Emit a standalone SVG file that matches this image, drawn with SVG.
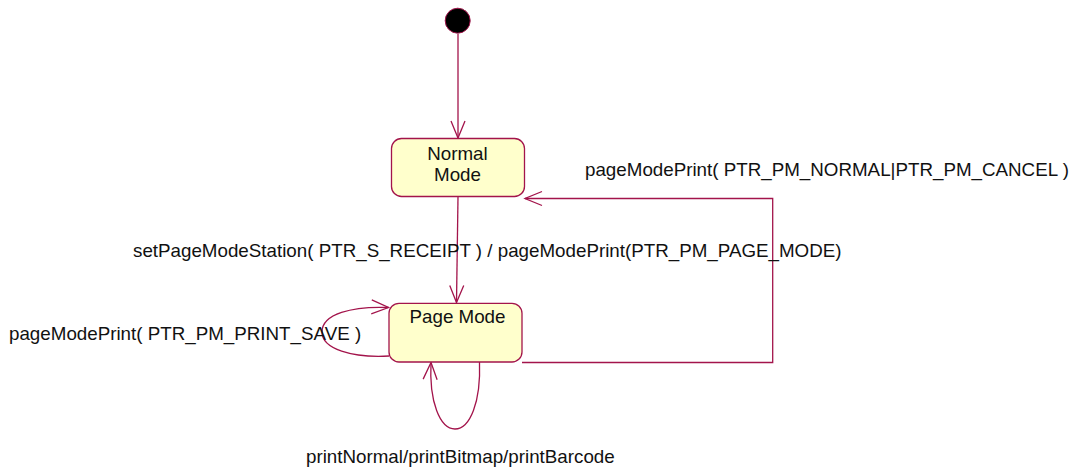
<svg xmlns="http://www.w3.org/2000/svg" width="1071" height="471" viewBox="0 0 1071 471">
<style>
.edge{fill:none;stroke:#a3144b;stroke-width:1.3}
.box{fill:#ffffcc;stroke:#a3144b;stroke-width:1.3}
text{font-family:"Liberation Sans",Arial,sans-serif;font-size:18.78px;fill:#111}
</style>
<defs>
<marker id="open" markerUnits="userSpaceOnUse" markerWidth="20" markerHeight="20" viewBox="-18 -10 20 20" refX="0" refY="0" orient="auto">
<path d="M-17,-7 L0,0 L-17,7" fill="none" stroke="#a3144b" stroke-width="1.3"/>
</marker>
</defs>
<rect width="1071" height="471" fill="#fff"/>
<g id="connectors">
<path class="edge" d="M458,34 L458,138" marker-end="url(#open)"/>
<path class="edge" d="M458,197 L456.5,302.5" marker-end="url(#open)"/>
<path class="edge" d="M522,362.5 L772.7,362.5 L772.7,198.5 L525,198.5" marker-end="url(#open)"/>
<path class="edge" d="M389,356 C352,358 322,349 322,332 C322,314 352,306 388.5,307.5" marker-end="url(#open)"/>
<path class="edge" d="M479.5,362 C481,402 470,429 455,429 C440,429 429,402 431,362.5" marker-end="url(#open)"/>
</g>
<g id="initial">
<circle cx="457.7" cy="20.7" r="12.5" fill="#000" stroke="#a3144b" stroke-width="1"/>
</g>
<g id="normal-mode">
<rect class="box" x="391.5" y="138.5" width="133" height="58" rx="10"/>
<text x="457.5" y="160" text-anchor="middle">Normal</text>
<text x="457.5" y="181" text-anchor="middle">Mode</text>
</g>
<g id="page-mode">
<rect class="box" x="389" y="303.3" width="133" height="58.7" rx="10"/>
<text x="457.5" y="322.5" text-anchor="middle">Page Mode</text>
</g>
<g id="labels">
<text x="585" y="176">pageModePrint( PTR_PM_NORMAL|PTR_PM_CANCEL )</text>
<text x="133" y="257">setPageModeStation( PTR_S_RECEIPT ) / pageModePrint(PTR_PM_PAGE_MODE)</text>
<text x="9" y="339.5">pageModePrint( PTR_PM_PRINT_SAVE )</text>
<text x="306" y="462.5">printNormal/printBitmap/printBarcode</text>
</g>
</svg>
